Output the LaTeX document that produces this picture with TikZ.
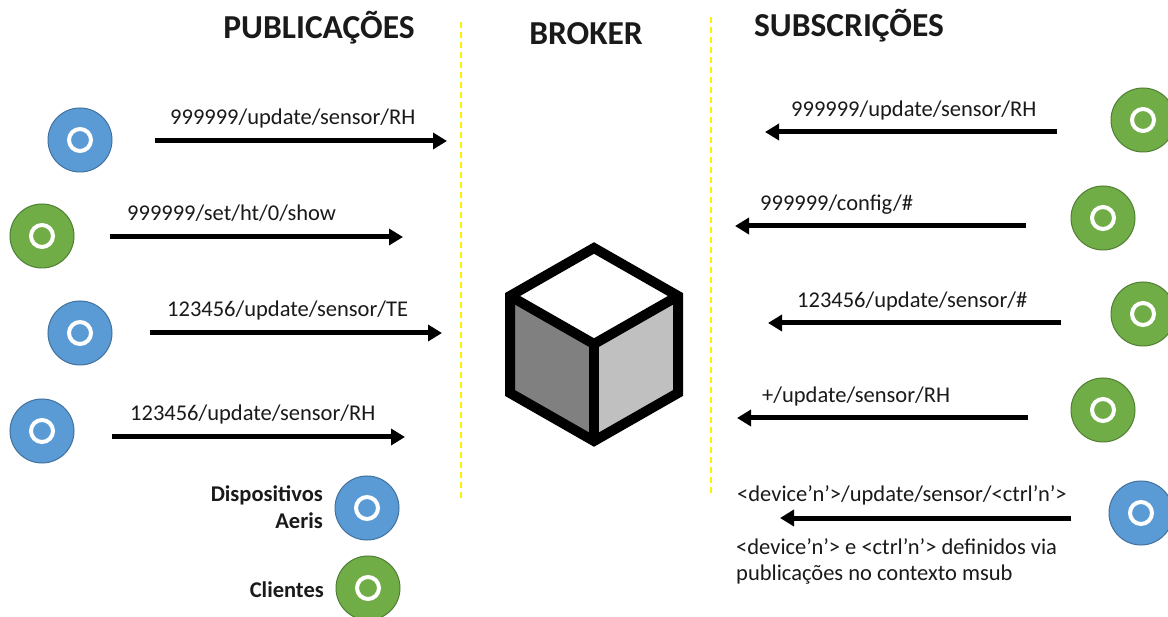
\documentclass[tikz,border=0pt]{standalone}
\usepackage{fontspec}
\setmainfont{Carlito}
\usetikzlibrary{arrows.meta}
\definecolor{devfill}{HTML}{5B9BD5}
\definecolor{devline}{HTML}{41719C}
\definecolor{clifill}{HTML}{70AD47}
\definecolor{cliline}{HTML}{507E32}
\definecolor{sepline}{HTML}{FFF200}
\definecolor{txt}{HTML}{1A1A1A}
\tikzset{
  x=1pt,y=-1pt,
  dev/.style={circle,fill=devfill,draw=devline,line width=1pt,minimum size=64pt,inner sep=0pt},
  cli/.style={circle,fill=clifill,draw=cliline,line width=1pt,minimum size=64pt,inner sep=0pt},
  ring/.style={circle,draw=white,line width=4pt,minimum size=22pt,inner sep=0pt},
  topic/.style={anchor=base west,inner sep=0pt,text=txt,font=\fontsize{22.5}{26}\selectfont},
  note/.style={anchor=base west,inner sep=0pt,text=txt,font=\fontsize{22.5}{26}\selectfont},
  legend/.style={anchor=base east,inner sep=0pt,text=txt,font=\fontsize{22.5}{26}\selectfont\bfseries},
  header/.style={anchor=base,inner sep=0pt,text=txt,font=\fontsize{33.5}{38}\selectfont\bfseries},
  msg/.style={line width=5pt,-{Triangle[length=14pt,width=16pt]}},
  sep/.style={draw=sepline,dashed,line width=1.2pt,dash pattern=on 6pt off 4pt},
}
\begin{document}
\begin{tikzpicture}
\useasboundingbox[fill=white] (0,0) rectangle (1168,617);
% headers
\node[header] (hpub) at (319,39) {PUBLICAÇÕES};
\node[header] (hbrk) at (586,45) {BROKER};
\node[header] (hsub) at (849,37) {SUBSCRIÇÕES};
% separators
\coordinate (s1a) at (461,22); \coordinate (s1b) at (461,498);
\coordinate (s2a) at (711,17); \coordinate (s2b) at (711,494);
\draw[sep] (s1a) -- (s1b);
\draw[sep] (s2a) -- (s2b);
% cube
\coordinate (ct) at (594,248);
\coordinate (ctl) at (510,296);
\coordinate (cbl) at (510,393);
\coordinate (cb) at (594,441);
\coordinate (cbr) at (678,393);
\coordinate (ctr) at (678,296);
\coordinate (cc) at (594,344);
\fill[white] (ct) -- (ctr) -- (cc) -- (ctl) -- cycle;
\fill[fill={rgb,255:red,128;green,128;blue,128}] (ctl) -- (cc) -- (cb) -- (cbl) -- cycle;
\fill[fill={rgb,255:red,192;green,192;blue,192}] (cc) -- (ctr) -- (cbr) -- (cb) -- cycle;
\draw[line width=10pt,line join=miter] (ct) -- (ctr) -- (cbr) -- (cb) -- (cbl) -- (ctl) -- cycle;
\draw[line width=10pt] (ctl) -- (cc) -- (ctr);
\draw[line width=10pt] (cc) -- (cb);
% left publishers
\node[dev] (p1) at (80,140) {}; \node[ring] at (p1) {};
\node[cli] (p2) at (42,236) {}; \node[ring] at (p2) {};
\node[dev] (p3) at (80,333) {}; \node[ring] at (p3) {};
\node[dev] (p4) at (42,431) {}; \node[ring] at (p4) {};
\coordinate (a1s) at (155,141); \coordinate (a1e) at (447,141);
\coordinate (a2s) at (110,237); \coordinate (a2e) at (403,237);
\coordinate (a3s) at (150,333); \coordinate (a3e) at (442,333);
\coordinate (a4s) at (112,437); \coordinate (a4e) at (405,437);
\draw[msg] (a1s) -- (a1e);
\draw[msg] (a2s) -- (a2e);
\draw[msg] (a3s) -- (a3e);
\draw[msg] (a4s) -- (a4e);
\node[topic] (t1) at (170,125) {999999/update/sensor/RH};
\node[topic] (t2) at (127,221) {999999/set/ht/0/show};
\node[topic] (t3) at (167,317) {123456/update/sensor/TE};
\node[topic] (t4) at (130,421) {123456/update/sensor/RH};
% legend
\node[dev] (ld) at (367,508) {}; \node[ring] at (ld) {};
\node[cli] (lc) at (368,588) {}; \node[ring] at (lc) {};
\node[legend] (ldt1) at (323,502) {Dispositivos};
\node[legend] (ldt2) at (323,529) {Aeris};
\node[legend] (lct) at (324,597) {Clientes};
% right subscribers
\node[cli] (q1) at (1143,120) {}; \node[ring] at (q1) {};
\node[cli] (q2) at (1103,218) {}; \node[ring] at (q2) {};
\node[cli] (q3) at (1143,314) {}; \node[ring] at (q3) {};
\node[cli] (q4) at (1103,410) {}; \node[ring] at (q4) {};
\node[dev] (q5) at (1141,513) {}; \node[ring] at (q5) {};
\coordinate (b1s) at (1057,132); \coordinate (b1e) at (765,132);
\coordinate (b2s) at (1026,226); \coordinate (b2e) at (735,226);
\coordinate (b3s) at (1061,323); \coordinate (b3e) at (768,323);
\coordinate (b4s) at (1028,418); \coordinate (b4e) at (737,418);
\coordinate (b5s) at (1071,518); \coordinate (b5e) at (780,518);
\draw[msg] (b1s) -- (b1e);
\draw[msg] (b2s) -- (b2e);
\draw[msg] (b3s) -- (b3e);
\draw[msg] (b4s) -- (b4e);
\draw[msg] (b5s) -- (b5e);
\node[topic] (u1) at (791,117) {999999/update/sensor/RH};
\node[topic] (u2) at (760,211) {999999/config/\#};
\node[topic] (u3) at (797,308) {123456/update/sensor/\#};
\node[topic] (u4) at (762,403) {+/update/sensor/RH};
\node[topic] (u5) at (737,502) {<device’n’>/update/sensor/<ctrl’n’>};
\node[note] (n1) at (736,554) {<device’n’> e <ctrl’n’> definidos via};
\node[note] (n2) at (736,580) {publicações no contexto msub};
\end{tikzpicture}
\end{document}
